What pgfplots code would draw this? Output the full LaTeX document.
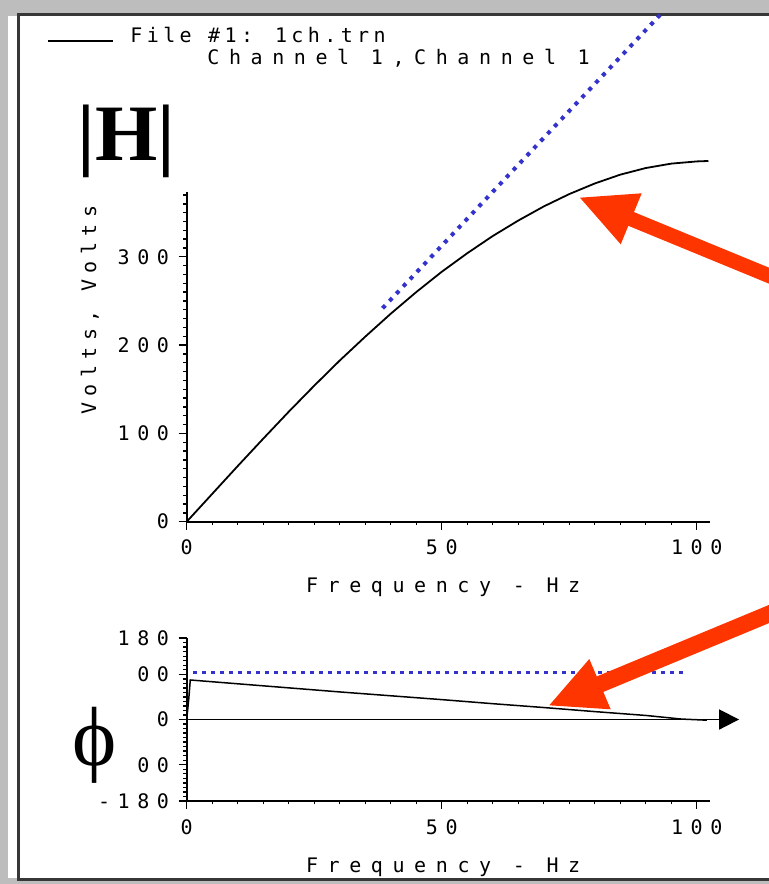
\documentclass[border=0pt]{standalone}
\usepackage{pgfplots}
\pgfplotsset{compat=1.18}
\usepackage{fontspec}
\setmainfont{Liberation Serif}
\newfontfamily\pixt[LetterSpace=38]{DejaVu Sans Mono}
\newfontfamily\pixh[LetterSpace=22]{DejaVu Sans Mono}
\newfontfamily\pixl[LetterSpace=48]{DejaVu Sans Mono}
\newfontfamily\pixy[LetterSpace=32]{DejaVu Sans Mono}
\usetikzlibrary{arrows.meta}

\definecolor{framegray}{RGB}{189,189,189}
\definecolor{frameline}{RGB}{55,55,55}
\definecolor{arrowred}{RGB}{255,53,0}
\definecolor{dotblue}{RGB}{51,51,204}

\newcommand{\pixfont}{\pixt\fontsize{10pt}{12pt}\selectfont}

\pgfplotsset{
  plotaxis/.style={
    scale only axis, width=261.65pt,
    xmin=0, xmax=102.6,
    axis x line*=bottom, axis y line*=left,
    axis line style={-, line width=0.9pt},
    tick align=outside,
    major tick length=4pt, minor tick length=1.7pt,
    every tick/.style={black, line width=0.7pt},
    xtick={0,50,100}, xticklabels={0,50,100},
    minor xtick={0,5,...,100},
    tick label style={font=\pixfont},
    xticklabel style={anchor=center, yshift=-9pt},
    yticklabel style={xshift=-1.3pt},
    xlabel={Frequency - Hz},
    xlabel style={font=\pixl\fontsize{10pt}{12pt}\selectfont,
      at={(axis description cs:0.49,0)}, anchor=center, yshift=-33pt},
    clip=false,
  }
}

\begin{document}
\begin{tikzpicture}
% window frame, in screen pixels
\begin{scope}[x=0.5pt,y=-0.5pt]
  \fill[framegray] (0,0) rectangle (769,884);
  \fill[white] (8.3,15.5) rectangle (769,878);
  \draw[frameline, line width=1.5pt] (769,14) -- (18.3,14) -- (18.3,879.5) -- (769,879.5);
  % legend header
  \draw[black, line width=1pt] (48,40.7) -- (113,40.7);
  \node[anchor=west, inner sep=0pt, font=\pixh\fontsize{10pt}{12pt}\selectfont] at (130,35.3) {File \#1: 1ch.trn};
  \node[anchor=west, inner sep=0pt, font=\pixl\fontsize{10pt}{12pt}\selectfont] at (207,58.3) {Channel 1,Channel 1};
\end{scope}

% magnitude
\begin{axis}[plotaxis, at={(93.35pt,-260.85pt)}, anchor=south west, height=165pt,
  ymin=0, ymax=373.7,
  ytick={0,100,200,300}, yticklabels={0,100,200,300},
  minor ytick={0,10,...,370},
  ylabel={Volts, Volts},
  ylabel style={font=\pixy\fontsize{10pt}{12pt}\selectfont,
    at={(axis description cs:-0.1848,0.641)}, anchor=center},
]
\addplot[black, line width=0.9pt] coordinates {
  (0,0) (5,31.5) (10,63) (15,94) (20,124.5) (25,154) (30,182.5) (35,209.5)
  (40,235.5) (45,260) (50,283) (55,304) (60,323.5) (65,341) (70,357)
  (75,371) (80,383) (85,393) (90,400.5) (95,405.5) (100,408) (102.3,408.5)
};
\addplot[dotblue, line width=2pt, dash pattern=on 2pt off 3pt] coordinates {
  (38.4,241.7) (92.8,573.8)
};
\end{axis}

% phase
\begin{axis}[plotaxis, at={(93.35pt,-400.45pt)}, anchor=south west, height=81.4pt,
  ymin=-180, ymax=180,
  ytick={-180,-100,0,100,180}, yticklabels={-180,00,0,00,180},
  minor ytick={-180,-170,...,180},
]
\addplot[dotblue, line width=1.7pt, dash pattern=on 1.7pt off 2.8pt] coordinates {
  (1.3,104) (97.5,104)
};
\addplot[black, line width=0.75pt] coordinates {
  (0,0) (0.4,45) (0.7,87.4) (10,79) (20,70) (30,61) (40,52.5) (50,44)
  (60,35) (70,26.5) (80,17.5) (90,9) (97,1) (102,-1.5)
};
\draw[black, line width=0.9pt, -{Triangle[length=10pt, width=10pt]}]
  (axis cs:0,0) -- (axis cs:108.3,0);
\end{axis}

\begin{scope}[x=0.5pt,y=-0.5pt]
  % symbols beside the axes
  \node[inner sep=0pt, font=\bfseries\fontsize{40pt}{42pt}\selectfont] at (126.5,141.5) {|H|};
  \node[inner sep=0pt, font=\fontsize{42pt}{44pt}\selectfont] at (95,745) {ϕ};
  % annotation arrows
  \begin{scope}
    \clip (0,0) rectangle (769,884);
    \draw[arrowred, line width=7.4pt] (624,216) -- (816,295);
    \fill[arrowred] (580,197.7) -- (641.7,193.3) -- (620.7,244.3) -- cycle;
    \draw[arrowred, line width=8.4pt] (594,686.7) -- (816,594.5);
    \fill[arrowred] (549.3,705.3) -- (589.3,659) -- (610.7,709.3) -- cycle;
  \end{scope}
\end{scope}

\pgfresetboundingbox
\path[x=0.5pt,y=-0.5pt] (0,0) rectangle (769,884);
\end{tikzpicture}
\end{document}
